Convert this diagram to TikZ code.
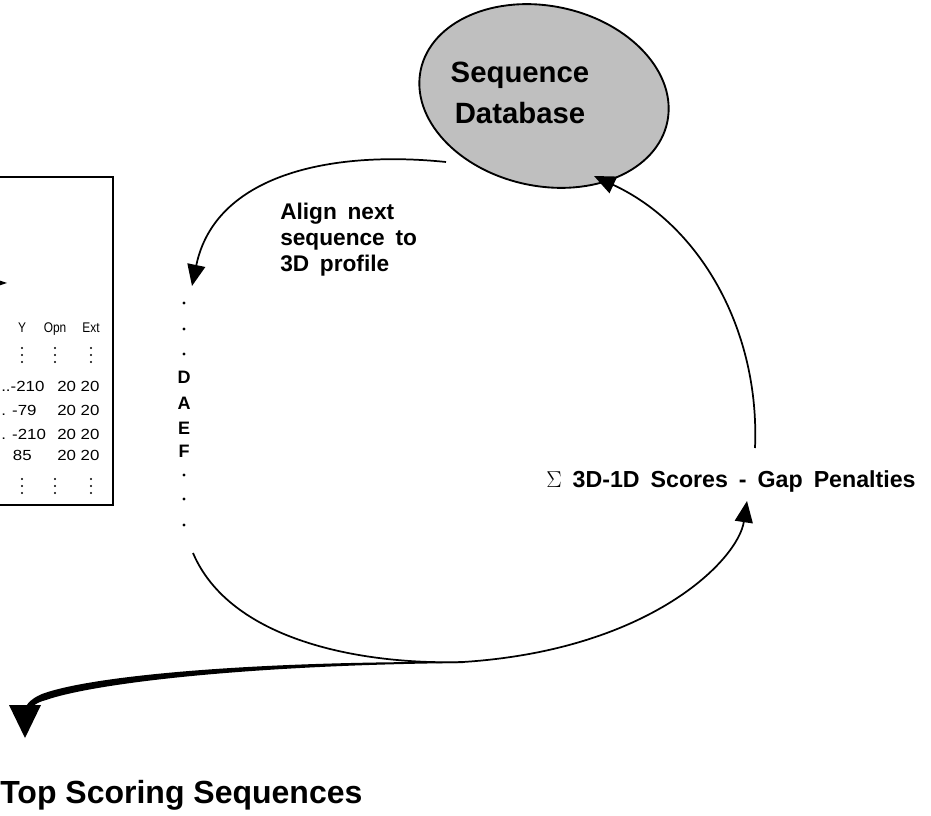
\documentclass[tikz,border=0pt]{standalone}
\usepackage{fontspec}
\setmainfont{Liberation Sans}
\newfontfamily\widesans[WordSpace=1.7]{Liberation Sans}
\newfontfamily\tblwide[FakeStretch=1.15]{Liberation Sans}
\newfontfamily\tblnarrow[FakeStretch=0.85]{Liberation Sans}
\usetikzlibrary{arrows.meta,shapes.geometric}
\begin{document}
\begin{tikzpicture}[x=0.75pt,y=-0.75pt,
  bigtip/.style={-{Triangle[length=16pt,width=13.5pt]}},
  arc/.style={line width=1.3pt},
  lbl/.style={font=\widesans\fontsize{17}{19.5}\selectfont\bfseries, align=left, inner sep=0pt},
  tbl/.style={font=\tblwide\fontsize{11}{12}\selectfont, inner sep=0pt},
  tblh/.style={font=\tblnarrow\fontsize{10.5}{12}\selectfont, inner sep=0pt, anchor=base},
  colltr/.style={font=\fontsize{13.5}{14}\selectfont\bfseries, inner sep=0pt},
  dotc/.style={circle, fill=black, inner sep=0pt, minimum size=2.6pt},
  tdot/.style={circle, fill=black, inner sep=0pt, minimum size=1.6pt},
]
\fill[white] (0,0) rectangle (931,816);
\useasboundingbox (0,0) rectangle (931,816);

% database ellipse
\node[ellipse, draw, line width=1.4pt, fill=black!25, inner sep=0pt, minimum width=189pt, minimum height=135pt, rotate=-12] (db) at (544,96) {};
\node[font=\fontsize{22}{31}\selectfont\bfseries, align=center, inner sep=0pt] (dbt) at (520,93) {Sequence\\Database};

% profile table (cropped)
\draw[line width=1.2pt] (-5,177) -- (113,177) -- (113,505) -- (-5,505);
\fill (-8,278) -- (7,283) -- (-8,288) -- cycle;
\node[tblh] (hY) at (22,333) {Y};
\node[tblh] (hO) at (55,333) {Opn};
\node[tblh] (hE) at (91,333) {Ext};
\foreach \x/\n in {22/a,55/b,91/c}{
  \foreach \y/\m in {348/1,355/2,362/3,479/4,486/5,493/6}{
    \node[tdot] (v\m\n) at (\x,\y) {};
  }
}
\node[tbl, anchor=base west] (r1a) at (1,392) {..-210};
\node[tbl, anchor=base west] (r1b) at (57,392) {20 20};
\node[tbl, anchor=base west] (r2a) at (1,415) {. -79};
\node[tbl, anchor=base west] (r2b) at (57,415) {20 20};
\node[tbl, anchor=base west] (r3a) at (1,439) {. -210};
\node[tbl, anchor=base west] (r3b) at (57,439) {20 20};
\node[tbl, anchor=base east] (r4a) at (32,460) {85};
\node[tbl, anchor=base west] (r4b) at (57,460) {20 20};

% sequence column
\node[dotc] (d1) at (184,303) {};
\node[dotc] (d2) at (184,329) {};
\node[dotc] (d3) at (184,354) {};
\node[colltr] (cD) at (184,377) {D};
\node[colltr] (cA) at (184,403) {A};
\node[colltr] (cE) at (184,428) {E};
\node[colltr] (cF) at (184,451) {F};
\node[dotc] (d4) at (184,475) {};
\node[dotc] (d5) at (184,499) {};
\node[dotc] (d6) at (184,525) {};

% labels
\node[lbl, anchor=north west] (align) at (280,203) {Align next\\sequence to\\3D profile};
\node[lbl, font=\widesans\fontsize{17.4}{19.5}\selectfont\bfseries, anchor=base] (score) at (731,487) {$\Sigma$ 3D-1D Scores - Gap Penalties};
\node[anchor=base west, font=\fontsize{24}{26}\selectfont\bfseries, inner sep=0pt] (top) at (0,803) {Top Scoring Sequences};

% connectors
\coordinate (a1s) at (446,162);
\coordinate (a1e) at (192,286);
\draw[arc, bigtip] (a1s) .. controls (330,150) and (215,175) .. (a1e);

\coordinate (a2s) at (755,448);
\coordinate (a2e) at (594,176);
\draw[arc, bigtip] (a2s) .. controls (760,330) and (700,225) .. (a2e);

\coordinate (a3s) at (193,553);
\coordinate (a3m) at (463,662);
\coordinate (a3e) at (747,501);
\draw[arc] (a3s) .. controls (230,640) and (360,665) .. (a3m);
\draw[arc, bigtip] (a3m) .. controls (650,650) and (738,560) .. (a3e);

% thick output arrow
\fill (a3m) .. controls (250,661) and (90,676) .. (42,694) .. controls (30,699) and (24,706) .. (24,714)
  -- (29,714) .. controls (29,709) and (34,703) .. (46,700) .. controls (95,683) and (250,665) .. (463,663) -- cycle;
\coordinate (tt) at (25,738);
\fill (9,705) -- (41,705) -- (tt) -- cycle;
\end{tikzpicture}
\end{document}
